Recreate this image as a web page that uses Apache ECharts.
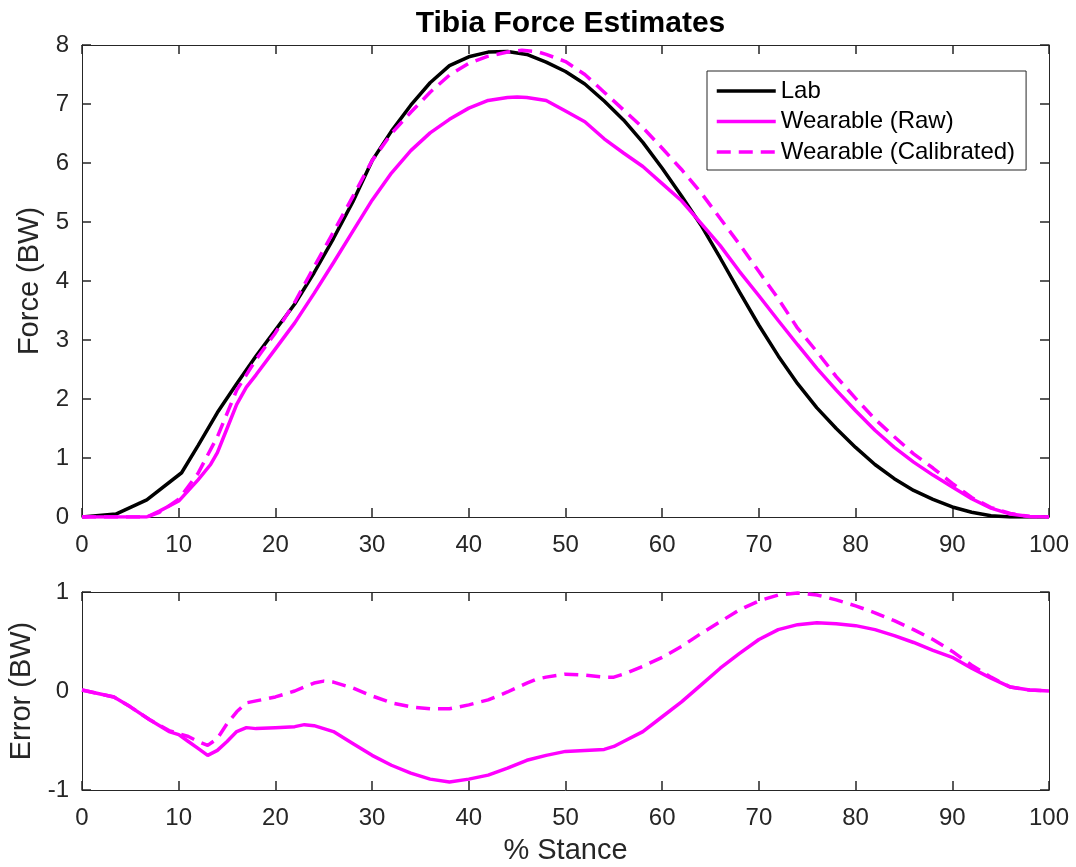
<!DOCTYPE html>
<html>
<head>
<meta charset="utf-8">
<script src="https://cdn.jsdelivr.net/npm/echarts@6/dist/echarts.min.js"></script>
<style>
html,body{margin:0;padding:0;background:#fff;}
#chart{width:1076px;height:867px;}
</style>
</head>
<body>
<div id="chart"></div>
<script>
// ---- Data ----
const titleText = 'Tibia Force Estimates';
const seriesNames = ['Lab', 'Wearable (Raw)', 'Wearable (Calibrated)'];

// Top panel: force (BW) vs % stance
const labX = [0,3.5,6.7,10.3,12,14,16,18,20,22,24,26,28,30,32,34,36,38,40,42,44,46,48,50,52,54,56,58,60,62,64,66,68,70,72,74,76,78,80,82,84,86,88,90,92,94,96,100];
const labY = [0,0.05,0.29,0.75,1.21,1.77,2.26,2.73,3.17,3.61,4.14,4.72,5.34,6.04,6.54,6.98,7.36,7.65,7.80,7.88,7.89,7.84,7.71,7.55,7.34,7.05,6.73,6.35,5.91,5.44,4.95,4.39,3.81,3.25,2.73,2.26,1.85,1.50,1.18,0.89,0.65,0.45,0.30,0.17,0.08,0.02,0,0];

const rawX = [0,3.5,6.7,8,10,12,13.3,14,15,16,17,18,20,22,24,26,28,30,32,34,36,38,40,42,44,45,46,48,50,52,54,56,58,60,62,64,66,68,70,72,74,76,78,80,82,84,86,88,90,92,94,96,98,100];
const rawY = [0,0,0,0.1,0.27,0.63,0.89,1.09,1.5,1.91,2.2,2.41,2.85,3.29,3.79,4.31,4.84,5.37,5.83,6.21,6.51,6.74,6.93,7.06,7.11,7.12,7.11,7.06,6.88,6.70,6.41,6.17,5.94,5.65,5.36,4.98,4.60,4.16,3.75,3.33,2.92,2.52,2.15,1.80,1.47,1.18,0.93,0.71,0.51,0.31,0.15,0.05,0.01,0];

const calX = [0,6.7,8,10,12,14,16,18,20,22,24,26,28,30,32,34,36,38,40,42,44,45.5,47,48,50,52,54,56,58,60,62,64,66,68,70,72,74,76,78,80,82,84,86,88,90,92,94,96,98,100];
const calY = [0,0,0.08,0.30,0.74,1.36,2.15,2.67,3.12,3.64,4.24,4.83,5.43,6.04,6.50,6.86,7.20,7.49,7.69,7.81,7.88,7.91,7.89,7.84,7.72,7.50,7.20,6.90,6.60,6.25,5.89,5.50,5.06,4.62,4.16,3.70,3.20,2.80,2.38,2.01,1.66,1.36,1.07,0.83,0.57,0.33,0.16,0.06,0.01,0];

// Bottom panel: error (BW) vs % stance
const rawErrX = [0,3.3,5,7,9,10,11,12,13,14,15,16,17,18,20,22,23,24,26,28,30,32,34,36,38,40,42,44,46,48,50,52,54,55,56,58,60,62,64,66,68,70,72,74,76,78,80,82,84,86,88,90,92,94,96,98,100];
const rawErrY = [0.01,-0.06,-0.16,-0.29,-0.41,-0.44,-0.51,-0.58,-0.65,-0.60,-0.51,-0.41,-0.37,-0.38,-0.37,-0.36,-0.34,-0.35,-0.41,-0.53,-0.65,-0.75,-0.83,-0.89,-0.92,-0.89,-0.85,-0.78,-0.70,-0.65,-0.61,-0.60,-0.59,-0.56,-0.51,-0.41,-0.26,-0.11,0.06,0.23,0.38,0.52,0.62,0.67,0.69,0.68,0.66,0.62,0.56,0.49,0.41,0.34,0.23,0.13,0.04,0.01,0];

const calErrX = [0,3.3,5,7,9,10,11,12,13,14,15,16,17,18,20,22,24,25,26,28,30,32,34,36,38,40,42,44,46,47,48,50,52,54,55,56,58,60,62,64,66,68,70,72,74,76,78,80,82,84,86,88,90,92,94,96,98,100];
const calErrY = [0.01,-0.06,-0.16,-0.29,-0.40,-0.43,-0.46,-0.51,-0.55,-0.48,-0.33,-0.21,-0.12,-0.10,-0.06,0.0,0.08,0.10,0.09,0.03,-0.05,-0.12,-0.16,-0.18,-0.18,-0.14,-0.09,-0.01,0.08,0.12,0.14,0.17,0.16,0.14,0.14,0.17,0.25,0.34,0.45,0.58,0.70,0.82,0.91,0.97,0.99,0.97,0.92,0.86,0.79,0.71,0.62,0.52,0.40,0.26,0.14,0.04,0.01,0];

// Axis ranges / ticks
const xRange = [0, 100], xStep = 10;
const forceRange = [0, 8], forceStep = 1;
const errRange = [-1, 1], errStep = 1;
const xName = '% Stance', forceName = 'Force (BW)', errName = 'Error (BW)';

// ---- Styling ----
const FONT = '"Liberation Sans", Arial, Helvetica, sans-serif';
const AX = '#262626';
const MAG = '#ff00ff';
const LW = 3.5;
const DASH = [14, 8];
const pairs = (xs, ys) => xs.map((x, i) => [x, ys[i]]);

function xAx(grid, pos, show, name, gap) {
  return {
    type: 'value', gridIndex: grid, position: pos,
    min: xRange[0], max: xRange[1], interval: xStep,
    axisLine: { show: true, onZero: false, lineStyle: { color: AX, width: 1 } },
    axisTick: { show: true, inside: true, length: 9, lineStyle: { color: AX, width: 1.5 } },
    axisLabel: { show: show, margin: 16, color: AX, fontSize: 24, fontFamily: FONT },
    splitLine: { show: false },
    name: name || '', nameLocation: 'middle', nameGap: gap || 0,
    nameTextStyle: { color: AX, fontSize: 29, fontFamily: FONT }
  };
}
function yAx(grid, pos, show, range, step, name, gap) {
  return {
    type: 'value', gridIndex: grid, position: pos,
    min: range[0], max: range[1], interval: step,
    axisLine: { show: true, onZero: false, lineStyle: { color: AX, width: 1 } },
    axisTick: { show: true, inside: true, length: 9, lineStyle: { color: AX, width: 1.5 } },
    axisLabel: { show: show, margin: 13, color: AX, fontSize: 24, fontFamily: FONT },
    splitLine: { show: false },
    name: name || '', nameLocation: 'middle', nameGap: gap || 0, nameRotate: 90,
    nameTextStyle: { color: AX, fontSize: 29, fontFamily: FONT }
  };
}

const chart = echarts.init(document.getElementById('chart'), null, { renderer: 'canvas' });
chart.setOption({
  animation: false,
  backgroundColor: '#ffffff',
  title: {
    text: titleText, left: 565.5, top: 4, textAlign: 'center',
    textStyle: { fontSize: 30, fontWeight: 'bold', color: '#000', fontFamily: FONT }
  },
  legend: {
    data: seriesNames, orient: 'vertical', left: 707, top: 71,
    itemWidth: 59, itemHeight: 14, itemGap: 6.5,
    padding: [8, 11, 6, 8],
    borderColor: AX, borderWidth: 1, backgroundColor: '#ffffff',
    itemStyle: { opacity: 0, borderWidth: 0 },
    lineStyle: { width: LW },
    textStyle: { fontSize: 24, color: '#000', fontFamily: FONT, lineHeight: 24 },
    selectedMode: false
  },
  grid: [
    { left: 82, top: 45, width: 967, height: 472, containLabel: false, outerBoundsMode: 'none' },
    { left: 82, top: 592, width: 967, height: 198, containLabel: false, outerBoundsMode: 'none' }
  ],
  xAxis: [
    xAx(0, 'bottom', true),
    xAx(0, 'top', false),
    xAx(1, 'bottom', true, xName, 46),
    xAx(1, 'top', false)
  ],
  yAxis: [
    yAx(0, 'left', true, forceRange, forceStep, forceName, 37),
    yAx(0, 'right', false, forceRange, forceStep),
    yAx(1, 'left', true, errRange, errStep, errName, 46),
    yAx(1, 'right', false, errRange, errStep)
  ],
  series: [
    { name: seriesNames[0], type: 'line', xAxisIndex: 0, yAxisIndex: 0, data: pairs(labX, labY),
      symbol: 'none', lineStyle: { color: '#000', width: LW }, itemStyle: { color: '#000' } },
    { name: seriesNames[1], type: 'line', xAxisIndex: 0, yAxisIndex: 0, data: pairs(rawX, rawY),
      symbol: 'none', lineStyle: { color: MAG, width: LW }, itemStyle: { color: MAG } },
    { name: seriesNames[2], type: 'line', xAxisIndex: 0, yAxisIndex: 0, data: pairs(calX, calY),
      symbol: 'none', lineStyle: { color: MAG, width: LW, type: DASH }, itemStyle: { color: MAG } },
    { name: 'Raw error', type: 'line', xAxisIndex: 2, yAxisIndex: 2, data: pairs(rawErrX, rawErrY),
      symbol: 'none', lineStyle: { color: MAG, width: LW }, itemStyle: { color: MAG } },
    { name: 'Calibrated error', type: 'line', xAxisIndex: 2, yAxisIndex: 2, data: pairs(calErrX, calErrY),
      symbol: 'none', lineStyle: { color: MAG, width: LW, type: DASH }, itemStyle: { color: MAG } }
  ]
});
</script>
</body>
</html>
